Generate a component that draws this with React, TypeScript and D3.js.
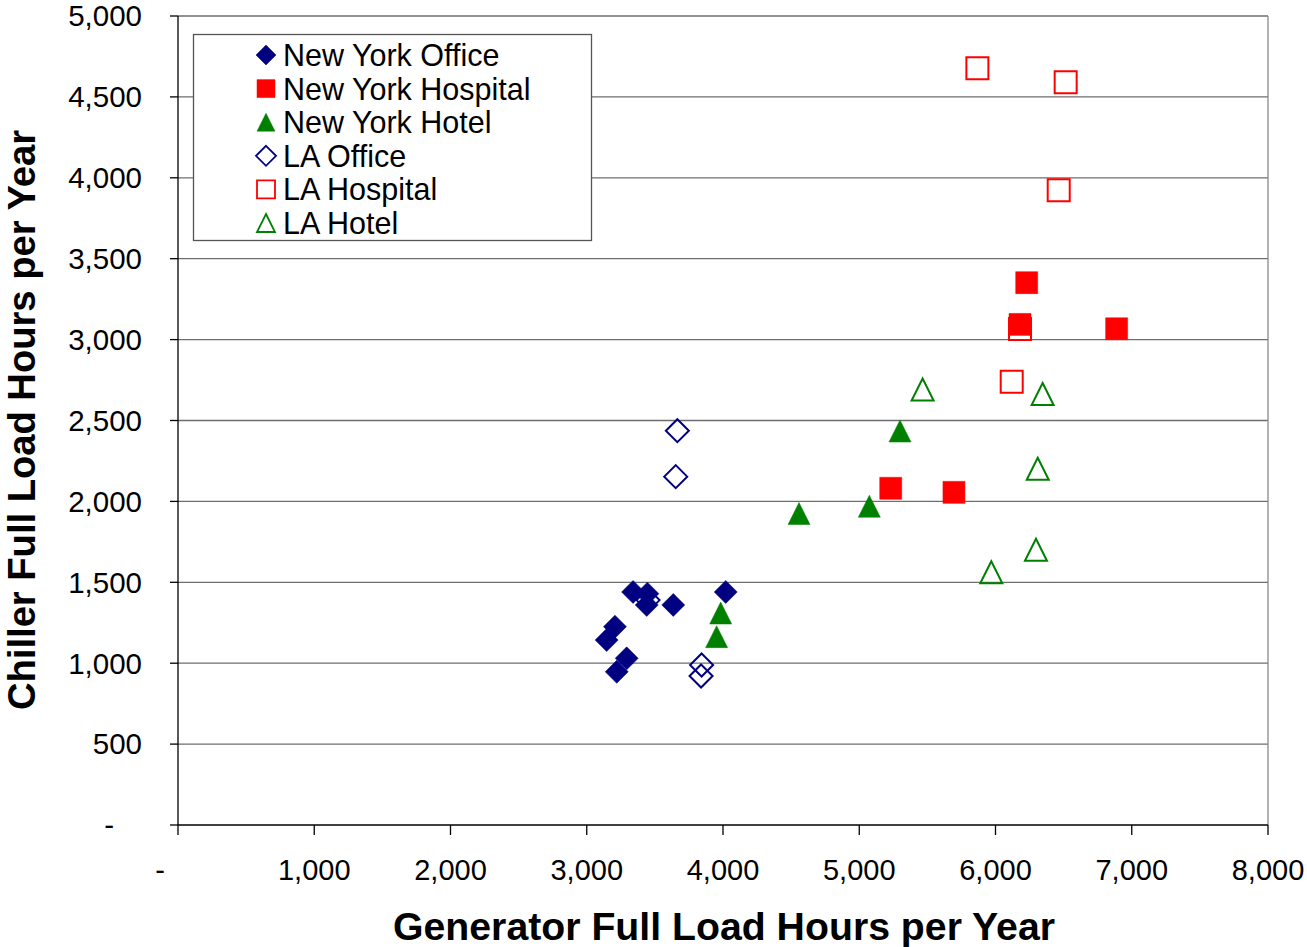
import React from "react";
import * as d3 from "d3";

type Pt = [number, number];

const seriesNames = ["New York Office", "New York Hospital", "New York Hotel", "LA Office", "LA Hospital", "LA Hotel"];
const seriesColors = ["#000080", "#FF0000", "#008000", "#000080", "#FF0000", "#008000"];
const seriesShapes = ["diamond", "square", "triangle", "diamond", "square", "triangle"];
const seriesFilled = [true, true, true, false, false, false];

const nyOffice: Pt[] = [
  [3340, 1440], [3445, 1430], [3440, 1360], [3635, 1360], [4020, 1440],
  [3207, 1226], [3146, 1143], [3293, 1030], [3220, 947],
];
const nyHospital: Pt[] = [[5231, 2081], [5695, 2056], [6229, 3352], [6180, 3094], [6889, 3067]];
const nyHotel: Pt[] = [[4558, 1925], [5074, 1970], [5299, 2435], [3983, 1310], [3953, 1164]];
const laOffice: Pt[] = [[3665, 2437], [3653, 2153], [3843, 989], [3839, 921], [3450, 1390]];
const laHospital: Pt[] = [[5867, 4677], [6515, 4590], [6464, 3923], [6180, 3066], [6119, 2740]];
const laHotel: Pt[] = [[5465, 2692], [6346, 2664], [6310, 2202], [6297, 1701], [5969, 1562]];

const seriesData = [nyOffice, nyHospital, nyHotel, laOffice, laHospital, laHotel];

const xTicks = [0, 1000, 2000, 3000, 4000, 5000, 6000, 7000, 8000];
const yTicks = [0, 500, 1000, 1500, 2000, 2500, 3000, 3500, 4000, 4500, 5000];

const L = 178, R = 1268, T = 16, B = 825;
const FONT = "Arial, 'Liberation Sans', sans-serif";

function markerPath(shape: string, cx: number, cy: number, s: number): string {
  const p = d3.path();
  const h = s / 2;
  if (shape === "diamond") {
    p.moveTo(cx, cy - h); p.lineTo(cx + h, cy); p.lineTo(cx, cy + h); p.lineTo(cx - h, cy); p.closePath();
  } else if (shape === "square") {
    p.rect(cx - h, cy - h, s, s);
  } else {
    p.moveTo(cx, cy - h); p.lineTo(cx + h, cy + h); p.lineTo(cx - h, cy + h); p.closePath();
  }
  return p.toString();
}

const fmt = (v: number) => (v === 0 ? "-" : d3.format(",")(v));

export default function App() {
  const x = d3.scaleLinear().domain([0, 8000]).range([L, R]);
  const y = d3.scaleLinear().domain([0, 5000]).range([B, T]);

  const drawOrder = [3, 4, 5, 0, 1, 2];

  return (
    <svg width={1307} height={947} style={{ position: "absolute", left: 0, top: 0, background: "#fff" }} fontFamily={FONT}>
      <rect x={0} y={0} width={1307} height={947} fill="#fff" />
      {yTicks.filter((t) => t > 0).map((t) => (
        <line key={"g" + t} x1={L} x2={R} y1={y(t)} y2={y(t)} stroke="#6e6e6e" strokeWidth={1.3} />
      ))}
      <line x1={R} x2={R} y1={T} y2={B} stroke="#8a8a8a" strokeWidth={1.3} />
      <line x1={L} x2={L} y1={T} y2={B} stroke="#000" strokeWidth={1.3} />
      <line x1={L} x2={R} y1={B} y2={B} stroke="#000" strokeWidth={1.3} />
      {yTicks.map((t) => (
        <g key={"yt" + t}>
          <line x1={L - 8} x2={L} y1={y(t)} y2={y(t)} stroke="#000" strokeWidth={1.3} />
          <text x={t === 0 ? 114 : 142} y={y(t)} dy="0.35em" textAnchor="end" fontSize={29.5} fill="#000">{fmt(t)}</text>
        </g>
      ))}
      {xTicks.map((t) => (
        <g key={"xt" + t}>
          <line x1={x(t)} x2={x(t)} y1={B} y2={B + 10} stroke="#000" strokeWidth={1.3} />
          <text x={t === 0 ? 160 : x(t)} y={880} textAnchor="middle" fontSize={29} fill="#000">{fmt(t)}</text>
        </g>
      ))}
      <text x={724} y={940} textAnchor="middle" fontSize={39} fontWeight="bold" fill="#000" textLength={662} lengthAdjust="spacingAndGlyphs">Generator Full Load Hours per Year</text>
      <text transform={`translate(35,420) rotate(-90)`} textAnchor="middle" fontSize={38} fontWeight="bold" fill="#000" textLength={580} lengthAdjust="spacingAndGlyphs">Chiller Full Load Hours per Year</text>
      {drawOrder.map((si) => (
        <g key={"s" + si}>
          {seriesData[si].map((d, i) => (
            <path
              key={i}
              d={markerPath(seriesShapes[si], x(d[0]), y(d[1]), seriesShapes[si] === "diamond" ? 23 : 22)}
              fill={seriesFilled[si] ? seriesColors[si] : "none"}
              stroke={seriesColors[si]}
              strokeWidth={seriesFilled[si] ? 0.5 : 2}
              strokeLinejoin="miter"
            />
          ))}
        </g>
      ))}
      <rect x={193.5} y={34.5} width={398} height={206} fill="#fff" stroke="#555" strokeWidth={1.3} />
      {seriesNames.map((name, i) => {
        const cy = 55 + i * 33.6;
        return (
          <g key={"l" + i}>
            <path
              d={markerPath(seriesShapes[i], 266, cy, seriesShapes[i] === "diamond" ? 20 : 18)}
              fill={seriesFilled[i] ? seriesColors[i] : "none"}
              stroke={seriesColors[i]}
              strokeWidth={seriesFilled[i] ? 0.5 : 1.8}
            />
            <text x={283} y={cy} dy="0.36em" fontSize={30.5} fill="#000">{name}</text>
          </g>
        );
      })}
    </svg>
  );
}
